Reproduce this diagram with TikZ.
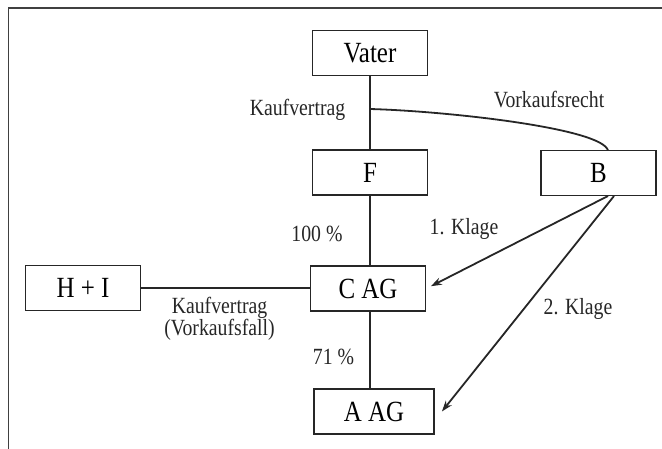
\documentclass[tikz,border=0pt]{standalone}
\usepackage{fontspec}
\setmainfont{Liberation Serif}
\usetikzlibrary{arrows.meta}
\newcommand{\bigtxt}[1]{\scalebox{1.04}[1.22]{#1}}
\newcommand{\smtxt}[1]{\scalebox{1.04}[1.22]{#1}}
\begin{document}
\begin{tikzpicture}[x=1pt,y=-1pt,
  box/.style={draw=black!85,line width=1.8pt,minimum width=115pt,minimum height=45pt,inner sep=0pt,font=\fontsize{24}{26}\selectfont},
  lbl/.style={font=\fontsize{19}{22}\selectfont,inner sep=0pt,text=black!85},
  conn/.style={draw=black!85,line width=1.8pt},
  arr/.style={conn,-{Stealth[length=11pt,width=7.5pt]}}]
\useasboundingbox (0,0) rectangle (662,448);
\draw[line width=1.8pt,black!75] (8.5,460) -- (8.5,8) -- (670,8);
\node[box] (vater) at (370,53) {\bigtxt{Vater}};
\node[box] (F) at (370,172.5) {\bigtxt{F}};
\node[box] (B) at (598.5,173) {\bigtxt{B}};
\node[box] (HI) at (83,288) {\bigtxt{H + I}};
\node[box] (CAG) at (368,288.5) {\bigtxt{C AG}};
\node[box,minimum width=120pt] (AAG) at (374,411.5) {\bigtxt{A AG}};
\coordinate (j) at (370,109);
\coordinate (bt) at (608,150.5);
\coordinate (b1) at (608,196);
\coordinate (b2) at (614,196);
\draw[conn] (vater.south) -- (vater.south |- F.north);
\draw[conn] (j) .. controls (445,111) and (602,128) .. (bt);
\draw[conn] (F.south) -- (F.south |- CAG.north);
\draw[conn] (HI.east) -- (HI.east -| CAG.west);
\draw[conn] (F.south |- CAG.south) -- (F.south |- AAG.north);
\draw[arr,shorten >=5pt] (b1) -- (CAG.east);
\draw[arr] (b2) -- ([xshift=7pt]AAG.east);
\node[lbl] (l1) at (297.5,110) {\smtxt{Kaufvertrag}};
\node[lbl] (l2) at (549,99.5) {\smtxt{Vorkaufsrecht}};
\node[lbl] (l3) at (317,234) {\smtxt{100 \%}};
\node[lbl] (l4) at (464,229) {\smtxt{1. Klage}};
\node[lbl] (l5a) at (219.5,308) {\smtxt{Kaufvertrag}};
\node[lbl] (l5b) at (219.5,330) {\smtxt{(Vorkaufsfall)}};
\node[lbl] (l6) at (333.5,357) {\smtxt{71 \%}};
\node[lbl] (l7) at (578,309) {\smtxt{2. Klage}};
\end{tikzpicture}
\end{document}
